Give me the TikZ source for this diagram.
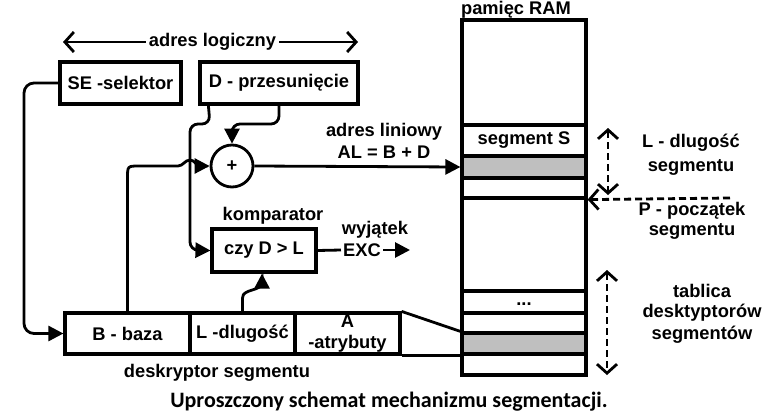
\documentclass[tikz,border=0pt]{standalone}
\usepackage{fontspec}
\setmainfont{Liberation Sans}
\newfontfamily\capfont{Carlito}
\usetikzlibrary{arrows.meta}
\tikzset{chev/.tip={Straight Barb[length=9pt,width=20pt,line width=2.8pt]}}
\begin{document}
\begin{tikzpicture}[x=1pt,y=-1pt,
  txt/.style={font=\fontsize{18.3}{21}\selectfont\bfseries, inner sep=0pt},
  box/.style={draw, line width=3.2pt, txt},
  conn/.style={line width=2.8pt},
  tri/.style={-{Triangle[length=15pt,width=15pt]}},
  dash2/.style={line width=2.8pt, dash pattern=on 7pt off 4pt},
]
\useasboundingbox (0,0) rectangle (780,418);

% --- boxes ---
\node[box, minimum width=121pt, minimum height=42pt] (SE) at (120.5,83) {SE -selektor};
\node[box, minimum width=158pt, minimum height=42pt] (D) at (279,83) {D - przesunięcie};
\node[draw, line width=2.8pt, circle, minimum size=42pt, txt] (plus) at (232,166) {+};
\node[box, minimum width=104pt, minimum height=43pt] (comp) at (264,250.5) {czy D > L};
\node[txt] at (273,216) {komparator};

% descriptor
\node[box, minimum width=125pt, minimum height=41pt] (B) at (127.5,333.5) {B - baza};
\node[box, minimum width=105pt, minimum height=41pt] (L) at (242.5,333.5) {L -dlugość};
\node[box, minimum width=105pt, minimum height=41pt, align=center, font=\fontsize{18.3}{21}\selectfont\bfseries] (A) at (347.5,333.5) {A\\-atrybuty};
\node[txt] at (217,373) {deskryptor segmentu};

% --- RAM ---
\tikzset{row/.style={draw, line width=3.2pt, minimum width=124pt, inner sep=0pt, txt}}
\node[row, minimum height=105pt] (top) at (524,72.5) {};
\node[row, minimum height=31pt] (segS) at (524,140.5) {segment S};
\node[row, minimum height=22pt, fill=black!25] (g1) at (524,167) {};
\node[row, minimum height=20pt] (r3) at (524,188) {};
\node[row, minimum height=93pt] (r4) at (524,244.5) {};
\node[row, minimum height=22pt] (r5) at (524,302) {};
\node[txt] at (524,304) {...};
\node[row, minimum height=20pt] (r6) at (524,323) {};
\node[row, minimum height=21pt, fill=black!25] (g2) at (524,343.5) {};
\node[row, minimum height=21pt] (r8) at (524,364.5) {};
\node[txt] at (516,10) {pamięc RAM};

% --- adres logiczny ---
\coordinate (al1) at (63,42);
\coordinate (al2) at (358,42);
\draw[line width=2.8pt, chev-chev] (al1) -- (al2);
\node[txt, fill=white, inner xsep=3pt, inner ysep=2pt] at (212.5,42) {adres logiczny};

% --- connectors ---
\draw[conn, tri, rounded corners=10pt] (SE.west) -- (24,83) -- (24,333.5) -- (B.west);
\draw[conn, tri, rounded corners=8pt] (D.south) -- (279,124) -- (232,124) -- (plus.north);
\draw[conn, tri, rounded corners=8pt] ([xshift=10pt]D.south west) -- (210,124) -- (190,124) -- (190,250) -- (comp.west);
\draw[conn, tri] (B.north) -- (127.5,178) .. controls (127.5,166) .. (139.5,166) -- (178,166)
   .. controls (183,166) and (185,160) .. (190,160) .. controls (195,160) and (196,166) .. (200,166) -- (plus.west);
\draw[conn, tri] (plus.east) -- (g1.west);
\node[txt] at (384,132) {adres liniowy};
\node[txt] at (384,152) {AL = B + D};

\draw[conn, tri] (L.north) -- (242.5,298) .. controls (242.5,288) and (262,292) .. (262,282) -- ([xshift=-2pt]comp.south);
\node[txt] (EXC) at (362,250) {EXC};
\node[txt] at (375,230) {wyjątek};
\coordinate (excend) at (410,250);
\draw[conn] (comp.east) -- ([xshift=-2pt]EXC.west);
\draw[conn, tri] ([xshift=2pt]EXC.east) -- (excend);

\draw[conn] (A.north east) -- (g2.north west);
\draw[line width=3.2pt] (A.south east) -- (g2.south west);

% --- dashed arrows ---
\coordinate (l1) at (608,128);
\coordinate (l2) at (608,195);
\draw[dash2, chev-chev] (l1) -- (l2);
\coordinate (p1) at (730,198);
\draw[dash2, -chev] (p1) -- (r3.south east);
\coordinate (t1) at (607,270);
\coordinate (t2) at (607,375);
\draw[dash2, chev-chev] (t1) -- (t2);

\node[txt] at (691,143) {L - dlugość};
\node[txt] at (691,167) {segmentu};
\node[txt] at (692,211) {P - początek};
\node[txt] at (692,231) {segmentu};
\node[txt] at (702,291) {tablica};
\node[txt] at (702,313) {desktyptorów};
\node[txt] at (702,335) {segmentów};

\node[font=\capfont\fontsize{22}{26}\selectfont\bfseries, inner sep=0pt] at (389,402) {Uproszczony schemat mechanizmu segmentacji.};
\end{tikzpicture}
\end{document}
